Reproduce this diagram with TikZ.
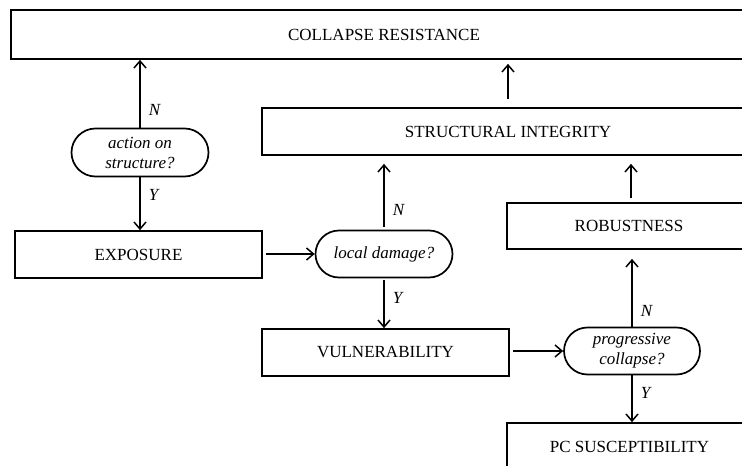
\documentclass[tikz,border=0pt]{standalone}
\usepackage{fontspec}
\setmainfont{Liberation Serif}
\usetikzlibrary{arrows.meta,shapes.misc}
\begin{document}
\begin{tikzpicture}[x=1pt,y=-1pt,
  txt/.style={font=\fontsize{17}{20}\selectfont},
  box/.style={txt,draw,line width=1.7pt,rectangle,inner sep=0pt,minimum height=47pt},
  query/.style={txt,draw,line width=1.7pt,rounded rectangle,inner sep=0pt,
    minimum width=137pt,minimum height=48pt,align=center,font=\fontsize{17}{20}\selectfont\itshape},
  flow/.style={line width=1.7pt,-{Straight Barb[length=7pt,width=12pt,line width=1.5pt]}},
  lab/.style={txt,font=\fontsize{17}{20}\selectfont\itshape,anchor=west,inner sep=0pt,xshift=8pt}]
\useasboundingbox (0,0) rectangle (742,466);
\clip (0,0) rectangle (742,466);
\fill[white] (0,0) rectangle (742,466);

% boxes and decision nodes
\node[box,minimum width=746pt,minimum height=49pt] (cr) at (384,34.5) {COLLAPSE RESISTANCE};
\node[query] (act) at (140,152.5) {action on\\structure?};
\node[box,minimum width=247pt] (exp) at (138.5,254.5) {EXPOSURE};
\node[box,minimum width=492pt] (si) at (508,131.5) {STRUCTURAL INTEGRITY};
\node[query,minimum height=47pt] (ld) at (384,254) {local damage?};
\node[box,minimum width=244pt,minimum height=46pt] (rob) at (629,226) {ROBUSTNESS};
\node[box,minimum width=247pt] (vul) at (385.5,352.5) {VULNERABILITY};
\node[query,minimum width=136pt,minimum height=47pt] (pc) at (632,351) {progressive\\collapse?};
\node[box,minimum width=245pt] (sus) at (629.5,446.5) {PC SUSCEPTIBILITY};

% connectors
\draw[flow] (act.north) -- node[lab,pos=0.26] {N} (act.north |- cr.south);
\draw[flow] (act.south) -- node[lab,pos=0.33] {Y} (act.south |- exp.north);
\draw[flow,shorten <=3pt] (exp.east |- ld.west) -- (ld.west);
\draw[flow,shorten <=3pt,shorten >=8pt] (ld.north) -- node[lab,pos=0.27] {N} (ld.north |- si.south);
\draw[flow,shorten <=2pt] (ld.south) -- node[lab,pos=0.4] {Y} (ld.south |- vul.north);
\draw[flow,shorten <=8pt,shorten >=4pt] (si.north) -- (si.north |- cr.south);
\draw[flow,shorten <=4pt,shorten >=8pt] ([xshift=2pt]rob.north) -- ([xshift=2pt]rob.north |- si.south);
\draw[flow,shorten >=9pt] (pc.north) -- node[lab,pos=0.21] {N} (pc.north |- rob.south);
\draw[flow,shorten <=3pt] (vul.east |- pc.west) -- (pc.west);
\draw[flow] (pc.south) -- node[lab,pos=0.38] {Y} (pc.south |- sus.north);
\end{tikzpicture}
\end{document}
